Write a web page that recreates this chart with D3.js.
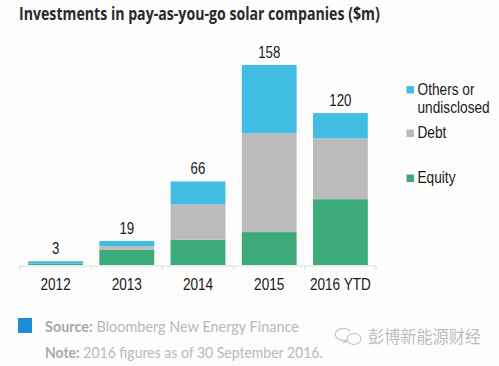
<!DOCTYPE html>
<html><head><meta charset="utf-8">
<script src="https://cdn.jsdelivr.net/npm/d3@7/dist/d3.min.js"></script>
<style>html,body{margin:0;padding:0;background:#fff;}svg{display:block;}</style>
</head><body>
<svg id="chart" width="499" height="366"></svg>
<script>
const categories = ["2012", "2013", "2014", "2015", "2016 YTD"];
const equity = [1, 12, 20, 26, 52];
const debt = [0, 3, 28, 78, 48];
const others = [2, 4, 18, 54, 20];
const totals = [3, 19, 66, 158, 120];
const seriesNames = ["Equity", "Debt", "Others or undisclosed"];
const legendLines = [["Others or", "undisclosed"], ["Debt"], ["Equity"]];
const titleText = "Investments in pay-as-you-go solar companies ($m)";
const sourceLabel = "Source:";
const sourceText = " Bloomberg New Energy Finance";
const noteLabel = "Note:";
const noteText = " 2016 figures as of 30 September 2016.";
const watermark = "彭博新能源财经";

const colors = {equity: "#3cab79", debt: "#bcbbbb", others: "#41bde3"};
const svg = d3.select("#chart");
svg.append("rect").attr("width", 499).attr("height", 366).attr("fill", "#fdfdfd");

const rows = categories.map((c, i) => ({cat: c, equity: equity[i], debt: debt[i], others: others[i], total: totals[i]}));
const keys = ["equity", "debt", "others"];
const stack = d3.stack().keys(keys)(rows);

const x = d3.scaleBand().domain(categories).range([20, 376]).paddingInner(0.23).paddingOuter(0.115);
const y = d3.scaleLinear().domain([0, 158]).range([265, 65]);

// fit text helper: scale horizontally to target width
function fit(sel, w, anchorX, baseY, anchor) {
  const bw = sel.node().getComputedTextLength();
  const sx = w / bw;
  sel.attr("x", 0).attr("y", 0)
     .attr("transform", `translate(${anchorX},${baseY}) scale(${sx},1)`);
  if (anchor) sel.attr("text-anchor", anchor);
}
function scaled(g, txt, xx, yy, size, sx, anchor, fill, weight, family) {
  return g.append("text").text(txt)
    .attr("transform", `translate(${xx},${yy}) scale(${sx},1)`)
    .attr("text-anchor", anchor).attr("font-size", size)
    .attr("font-family", family || "'Liberation Sans', Arial, sans-serif")
    .attr("font-weight", weight || "normal").attr("fill", fill);
}

// title
const t = svg.append("text").text(titleText)
  .attr("font-family", "'Open Sans', sans-serif").attr("font-weight", 700)
  .attr("font-size", 17).attr("fill", "#2a2a2a");
fit(t, 361, 19, 19.5);

// bars
const layer = svg.append("g");
stack.forEach(s => {
  layer.selectAll(null).data(s).join("rect")
    .attr("x", d => x(d.data.cat))
    .attr("width", x.bandwidth())
    .attr("y", d => y(d[1]))
    .attr("height", d => Math.max(0, y(d[0]) - y(d[1])))
    .attr("fill", colors[s.key]);
});

// axis line & ticks
const axisY = 266;
const ag = svg.append("g").attr("stroke", "#dcdcdc").attr("stroke-width", 1);
ag.append("line").attr("x1", x.range()[0]).attr("x2", x.range()[1]).attr("y1", axisY).attr("y2", axisY);
d3.range(categories.length + 1).forEach(i => {
  const xx = x.range()[0] + i * x.step();
  ag.append("line").attr("x1", xx).attr("x2", xx).attr("y1", axisY).attr("y2", axisY + 4);
});

// category labels
rows.forEach(r => {
  scaled(svg, r.cat, x(r.cat) + x.bandwidth() / 2, 290, 16, 0.85, "middle", "#1a1a1a");
});
// totals
rows.forEach(r => {
  scaled(svg, String(r.total), x(r.cat) + x.bandwidth() / 2, y(r.total) - 7, 16, 0.83, "middle", "#1a1a1a");
});

// legend
const legColors = [colors.others, colors.debt, colors.equity];
const legBase = [94.5, 138, 183];
legendLines.forEach((lines, i) => {
  svg.append("rect").attr("x", 406.5).attr("y", legBase[i] - 8.5).attr("width", 7.5).attr("height", 7.5).attr("fill", legColors[i]);
  lines.forEach((ln, j) => {
    scaled(svg, ln, 417.5, legBase[i] + j * 18.5, 16, 0.855, "start", "#1a1a1a");
  });
});

// source/note
svg.append("rect").attr("x", 18).attr("y", 318).attr("width", 14).attr("height", 15).attr("fill", "#1a8fd5");
const src = svg.append("text").attr("font-family", "Lato, sans-serif").attr("font-size", 15);
src.append("tspan").text(sourceLabel).attr("font-weight", 700).attr("fill", "#a9a9a9");
src.append("tspan").text(sourceText).attr("fill", "#b8b8b8");
fit(src, 254, 45, 332);
const note = svg.append("text").attr("font-family", "Lato, sans-serif").attr("font-size", 15);
note.append("tspan").text(noteLabel).attr("font-weight", 700).attr("fill", "#a9a9a9");
note.append("tspan").text(noteText).attr("fill", "#b8b8b8");
fit(note, 278, 45, 358);

// watermark
const wm = svg.append("g").attr("fill", "none").attr("stroke", "#c4c4c4").attr("stroke-width", 1.2);
wm.append("path").attr("d", "M350,331 a8,6 0 1,0 -4,9 l-3,3 l5,-2");
wm.append("ellipse").attr("cx", 354).attr("cy", 339).attr("rx", 7).attr("ry", 5.5);
const w = svg.append("text").text(watermark)
  .attr("font-family", "'Noto Sans CJK SC', sans-serif").attr("font-size", 16.5).attr("fill", "#bdbdbd");
fit(w, 113, 368, 343);
</script>
</body></html>
